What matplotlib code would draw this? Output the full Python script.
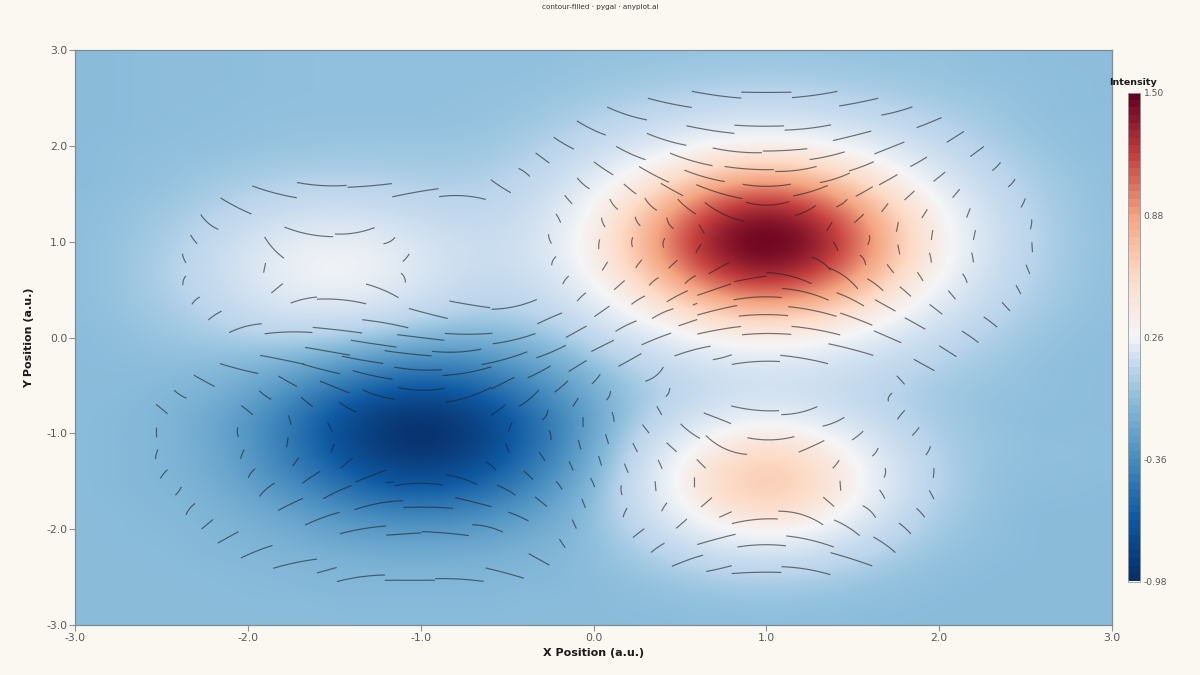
import numpy as np
import matplotlib
matplotlib.use("Agg")
import matplotlib.pyplot as plt
from matplotlib.collections import LineCollection
from matplotlib.colors import FuncNorm, LinearSegmentedColormap

BG = "#fbf8f1"
TICK_COLOR = "#55595d"

x_values = np.arange(-3, 3.01, 0.2)
y_values = np.arange(3, -3.01, -0.2)

# Intensity, hundredths, top row is y = 3, left column is x = -3
intensity_rows = [
    [-24,-24,-23,-23,-23,-23,-22,-22,-22,-22,-22,-22,-22,-22,-22,-21,-21,-21,-20,-20,-20,-20,-20,-21,-21,-21,-22,-22,-23,-23,-23],
    [-24,-24,-23,-23,-23,-23,-22,-22,-22,-22,-22,-22,-22,-22,-21,-20,-20,-19,-18,-18,-17,-18,-18,-19,-20,-20,-22,-22,-23,-23,-23],
    [-24,-24,-23,-23,-23,-23,-22,-22,-22,-22,-22,-22,-21,-21,-20,-19,-17,-15,-14,-12,-12,-12,-14,-15,-17,-19,-20,-21,-22,-23,-23],
    [-24,-24,-23,-23,-23,-22,-22,-22,-22,-22,-22,-21,-21,-20,-18,-15,-12,-9,-6,-3,-2,-3,-6,-9,-12,-15,-18,-20,-22,-23,-23],
    [-24,-24,-23,-23,-22,-22,-21,-21,-21,-21,-21,-21,-20,-18,-15,-10,-5,2,7,12,13,12,7,2,-5,-10,-15,-19,-21,-22,-23],
    [-24,-23,-23,-22,-22,-21,-20,-20,-19,-19,-19,-19,-18,-15,-10,-3,6,16,26,33,35,33,26,16,6,-3,-11,-16,-20,-22,-23],
    [-24,-23,-22,-21,-20,-18,-17,-16,-16,-16,-17,-17,-15,-12,-4,6,20,35,49,60,63,60,49,35,20,6,-5,-13,-18,-21,-22],
    [-24,-23,-22,-20,-17,-15,-12,-10,-10,-11,-13,-13,-12,-7,2,17,35,56,76,90,95,90,76,56,35,16,1,-9,-16,-20,-22],
    [-23,-22,-20,-18,-14,-9,-5,-2,-2,-4,-7,-9,-8,-3,9,26,50,76,100,117,124,117,100,76,49,26,7,-6,-15,-19,-22],
    [-23,-22,-19,-15,-9,-2,4,8,8,5,0,-4,-4,1,13,33,60,90,117,137,145,137,117,90,60,33,11,-4,-13,-19,-22],
    [-23,-21,-18,-13,-5,4,13,18,18,13,7,1,-1,3,16,36,64,95,124,145,150,145,124,95,63,35,13,-3,-13,-19,-21],
    [-23,-21,-17,-11,-2,8,17,23,23,18,9,2,-1,3,14,34,60,90,117,137,145,137,117,90,60,33,11,-4,-13,-19,-22],
    [-23,-21,-17,-11,-3,7,16,22,22,16,8,0,-4,-1,9,26,50,75,100,117,124,117,100,76,49,26,7,-6,-15,-19,-22],
    [-23,-21,-18,-13,-6,3,10,14,13,8,1,-6,-9,-7,2,16,35,56,75,90,95,90,76,56,35,16,1,-9,-16,-20,-22],
    [-23,-22,-19,-16,-11,-5,0,1,-1,-5,-12,-16,-18,-15,-8,4,19,35,49,60,63,60,50,35,20,6,-5,-13,-18,-21,-22],
    [-24,-23,-21,-19,-17,-14,-13,-14,-18,-23,-27,-30,-29,-25,-18,-8,4,15,26,33,36,34,27,17,6,-3,-11,-16,-20,-22,-23],
    [-24,-23,-23,-22,-22,-23,-25,-30,-36,-41,-45,-46,-42,-36,-28,-18,-9,1,8,14,16,14,9,3,-4,-10,-15,-19,-21,-23,-23],
    [-24,-24,-24,-25,-27,-31,-37,-45,-53,-60,-64,-62,-56,-47,-37,-27,-17,-9,-2,3,5,4,0,-5,-10,-15,-18,-20,-22,-23,-23],
    [-24,-24,-25,-27,-30,-36,-45,-57,-68,-76,-80,-77,-69,-57,-45,-32,-21,-12,-3,3,5,3,-1,-7,-13,-17,-20,-21,-22,-23,-23],
    [-24,-25,-26,-29,-34,-42,-53,-66,-80,-90,-93,-90,-80,-66,-51,-36,-21,-8,4,13,16,14,6,-3,-11,-16,-20,-22,-23,-23,-23],
    [-24,-25,-26,-29,-35,-43,-55,-70,-84,-94,-98,-94,-84,-69,-53,-35,-17,0,17,31,36,32,20,6,-7,-15,-19,-21,-23,-23,-23],
    [-24,-25,-26,-29,-34,-42,-54,-67,-81,-90,-94,-90,-81,-66,-50,-32,-13,10,32,50,57,51,35,15,-2,-13,-19,-21,-22,-22,-23],
    [-24,-25,-26,-28,-33,-40,-50,-61,-72,-81,-84,-81,-72,-60,-45,-29,-8,16,42,60,65,60,44,21,1,-12,-19,-22,-23,-23,-23],
    [-24,-25,-26,-27,-31,-36,-44,-52,-61,-68,-70,-68,-61,-51,-39,-25,-6,17,42,60,65,60,43,20,1,-12,-19,-22,-23,-23,-24],
    [-24,-24,-25,-26,-29,-32,-37,-43,-49,-54,-55,-54,-49,-42,-34,-23,-8,10,31,48,55,49,32,13,-4,-15,-20,-23,-24,-24,-24],
    [-24,-24,-25,-25,-27,-29,-32,-36,-40,-42,-43,-42,-40,-35,-30,-22,-12,1,16,27,32,28,16,2,-10,-17,-21,-23,-24,-24,-24],
    [-24,-24,-24,-25,-26,-27,-29,-31,-33,-34,-35,-34,-33,-30,-27,-23,-17,-9,0,7,10,7,0,-8,-15,-20,-22,-23,-24,-24,-24],
    [-24,-24,-24,-24,-25,-25,-26,-27,-28,-29,-29,-29,-28,-27,-26,-23,-20,-16,-12,-8,-7,-8,-12,-16,-20,-22,-23,-24,-24,-24,-24],
    [-24,-24,-24,-24,-24,-25,-25,-26,-26,-26,-26,-26,-26,-25,-25,-24,-23,-21,-19,-17,-17,-17,-19,-21,-22,-23,-24,-24,-24,-24,-24],
    [-24,-24,-24,-24,-24,-24,-24,-24,-25,-25,-25,-25,-25,-24,-24,-24,-23,-23,-22,-22,-21,-22,-22,-23,-23,-24,-24,-24,-24,-24,-24],
    [-24,-24,-24,-24,-24,-24,-24,-24,-24,-24,-24,-24,-24,-24,-24,-24,-24,-24,-23,-23,-23,-23,-23,-24,-24,-24,-24,-24,-24,-24,-24],
]

contour_levels = [-0.74, -0.565, -0.405, -0.27, -0.10, 0.12, 0.40, 0.67, 0.95, 1.22]
colorbar_labels = ["1.50", "0.88", "0.26", "-0.36", "-0.98"]

x_ticks = [-3, -2, -1, 0, 1, 2, 3]
y_ticks = [-3, -2, -1, 0, 1, 2, 3]

cmap = LinearSegmentedColormap.from_list("intensity", [
    (0.0, "#08306b"), (0.125, "#0f5aa3"), (0.25, "#4a8fc0"), (0.375, "#90c0dd"),
    (0.44, "#c3d9ee"), (0.5, "#f5f5f7"), (0.625, "#fddbc7"), (0.75, "#f4a582"),
    (0.875, "#c5403f"), (1.0, "#67001f"),
], N=2048)

# the table sits low in the blues, this lines it up with the colour scale
scale_table = [-0.98, -0.24, -0.18, -0.10, 0.26, 1.5]
scale_color = [0, 0.365, 0.395, 0.43, 0.5, 1]


def to_scale(v):
    return np.interp(v, scale_table, scale_color)


def from_scale(v):
    return np.interp(v, scale_color, scale_table)


field = np.array(intensity_rows)[::-1] / 100
y_up = y_values[::-1]

fig = plt.figure(figsize=(12, 6.75), dpi=100, facecolor=BG)
ax = fig.add_axes([75 / 1200, 50 / 675, 1037 / 1200, 575 / 675])

ax.imshow(field, origin="lower", extent=[-3.1, 3.1, -3.1, 3.1], aspect="auto",
          cmap=cmap, norm=FuncNorm((to_scale, from_scale), vmin=-0.98, vmax=1.5),
          interpolation="bicubic", interpolation_stage="data")

# contour lines come out as broken strokes, each one flipped around its own middle
PX_X = 1037 / 6
PX_Y = 575 / 6
cs = ax.contour(x_values, y_up, field, levels=contour_levels, colors="none")
strokes = []
for level_segs in cs.allsegs:
    for seg in level_segs:
        if len(seg) < 4:
            continue
        px = seg * [PX_X, PX_Y]
        s = np.r_[0, np.cumsum(np.hypot(*np.diff(px, axis=0).T))]
        pos = 0.0
        while pos < s[-1] - 4:
            a = np.interp(pos, s, px[:, 0]), np.interp(pos, s, px[:, 1])
            b = np.interp(pos + 6, s, px[:, 0]), np.interp(pos + 6, s, px[:, 1])
            flat = abs(b[0] - a[0]) / max(np.hypot(b[0] - a[0], b[1] - a[1]), 1e-6)
            length = 10 + 40 * flat ** 8
            gap = 13 * (1 - flat ** 4)
            t = np.linspace(pos, min(pos + length, s[-1]), 12)
            cx = np.interp(t, s, px[:, 0])
            cy = np.interp(t, s, px[:, 1])
            # grid is coarse, take the kinks out of the stroke
            cx = np.polyval(np.polyfit(t, cx, 2), t)
            cy = np.polyval(np.polyfit(t, cy, 2), t)
            cy = 2 * cy.mean() - cy
            strokes.append(np.c_[cx / PX_X, cy / PX_Y])
            pos += length + gap
ax.add_collection(LineCollection(strokes, colors="#1f2326", linewidths=0.85, alpha=0.62))

ax.set_xlim(-3, 3)
ax.set_ylim(-3, 3)
ax.set_xticks(x_ticks)
ax.set_yticks(y_ticks)
ax.set_xticklabels([f"{v:.1f}" for v in x_ticks])
ax.set_yticklabels([f"{v:.1f}" for v in y_ticks])
ax.tick_params(length=4, width=0.8, color="#8c9296", labelcolor=TICK_COLOR, labelsize=7.8, pad=1.5)
for spine in ax.spines.values():
    spine.set_color("#7f8b90")
    spine.set_linewidth(0.9)

ax.set_xlabel("X Position (a.u.)", fontsize=8, fontweight="bold", color="#1a1a1a", labelpad=4)
ax.set_ylabel("Y Position (a.u.)", fontsize=8, fontweight="bold", color="#1a1a1a", labelpad=9)

fig.text(0.5, 1 - 6.5 / 675, "contour-filled · pygal · anyplot.ai", ha="center", va="center",
         fontsize=5.2, color="#333333")

# colour bar, stepped like the reference
cax = fig.add_axes([1127.5 / 1200, (675 - 581.5) / 675, 12.5 / 1200, 488.5 / 675])
steps = np.linspace(0, 1, 64)[:, None]
cax.imshow(steps, origin="lower", aspect="auto", cmap=cmap, vmin=0, vmax=1,
           extent=[0, 1, -0.98, 1.5], interpolation="nearest")
cax.set_xticks([])
cax.yaxis.tick_right()
cax.set_yticks([1.5, 0.88, 0.26, -0.36, -0.98])
cax.set_yticklabels(colorbar_labels)
cax.tick_params(length=0, labelsize=6.6, labelcolor=TICK_COLOR, pad=2.5)
for spine in cax.spines.values():
    spine.set_color("#9aa0a4")
    spine.set_linewidth(0.6)
fig.text(1133.5 / 1200, 1 - 82.5 / 675, "Intensity", ha="center", va="center",
         fontsize=6.8, fontweight="bold", color="#1a1a1a")

fig.savefig("out.png", dpi=100, facecolor=BG)
